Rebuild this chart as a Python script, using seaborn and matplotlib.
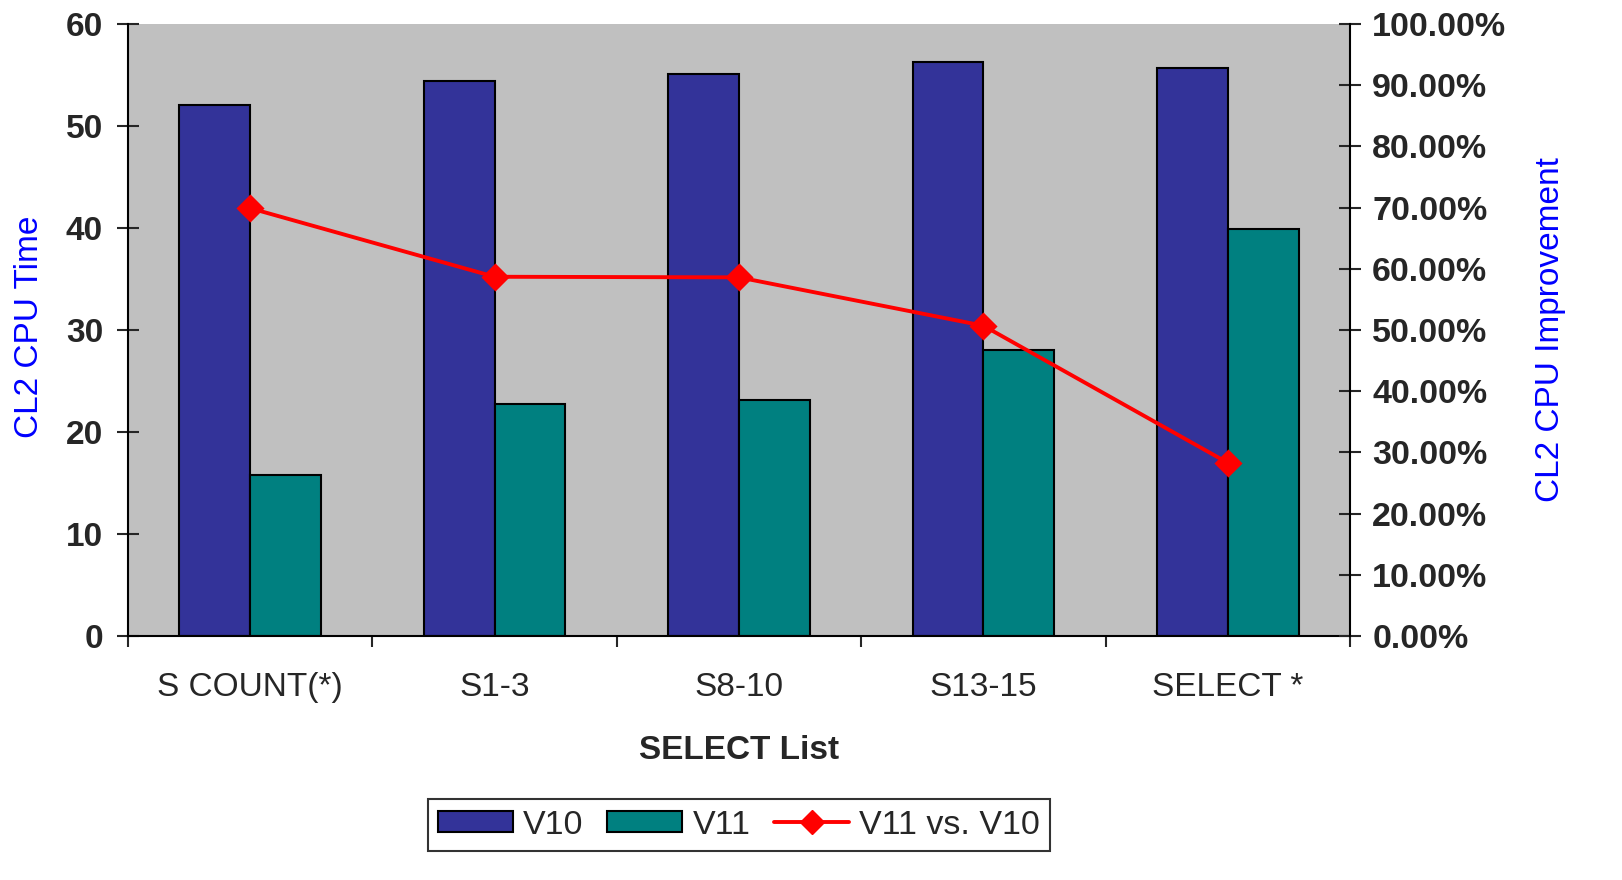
import numpy as np
import pandas as pd
import matplotlib.pyplot as plt
import seaborn as sns
from matplotlib.patches import Patch
from matplotlib.lines import Line2D
from matplotlib.ticker import PercentFormatter, FixedLocator

# data
categories = ['S COUNT(*)', 'S1-3', 'S8-10', 'S13-15', 'SELECT *']
v10_time = [52.1, 54.4, 55.1, 56.3, 55.7]
v11_time = [15.8, 22.7, 23.1, 28.0, 39.9]
improvement = [69.9, 58.7, 58.6, 50.7, 28.3]  # percent

sns.set_style('white')
plt.rcParams['font.family'] = ['Liberation Sans', 'DejaVu Sans']

c_v10 = '#333399'
c_v11 = '#008080'
c_line = '#FF0000'

df = pd.DataFrame({
    'category': categories * 2,
    'version': ['V10'] * len(categories) + ['V11'] * len(categories),
    'time': v10_time + v11_time,
})

fig = plt.figure(figsize=(16.22, 8.8), dpi=100)
ax = fig.add_axes([128 / 1622, 1 - 636 / 880, 1222 / 1622, 612 / 880])
ax.set_facecolor('#C0C0C0')

sns.barplot(data=df, x='category', y='time', hue='version',
            palette=[c_v10, c_v11], width=0.58, edgecolor='black',
            linewidth=1.5, saturation=1, ax=ax, legend=False)

ax.set_ylim(0, 60)
ax.set_yticks(range(0, 61, 10))
ax.set_xlim(-0.5, len(categories) - 0.5)

ax2 = ax.twinx()
sns.pointplot(x=categories, y=improvement, color=c_line, markers='D',
              markersize=12, linewidth=2.8, ax=ax2)
ax2.set_ylim(0, 100)
ax2.set_yticks(range(0, 101, 10))
ax2.yaxis.set_major_formatter(PercentFormatter(100, decimals=2))
ax.set_xlim(-0.5, len(categories) - 0.5)

# spines
for a in (ax, ax2):
    a.spines['top'].set_visible(False)
    for s in ('left', 'right', 'bottom'):
        a.spines[s].set_color('black')
        a.spines[s].set_linewidth(1.5)
ax.spines['right'].set_visible(False)
ax2.spines['left'].set_visible(False)
ax2.spines['bottom'].set_visible(False)

# ticks
ax.tick_params(axis='y', direction='inout', length=16, width=1.5,
               labelsize=24, pad=10, left=True)
for lbl in ax.get_yticklabels():
    lbl.set_fontweight('bold')
ax2.tick_params(axis='y', direction='inout', length=16, width=1.5,
                labelsize=24.5, pad=8, right=True)
for lbl in ax2.get_yticklabels():
    lbl.set_fontweight('bold')

ax.xaxis.set_minor_locator(FixedLocator(np.arange(-0.5, len(categories), 1.0)))
ax.tick_params(axis='x', which='major', length=0, labelsize=24, pad=26)
ax.tick_params(axis='x', which='minor', direction='out', length=8,
               width=1.5, bottom=True)

ax.set_xlabel('SELECT List', fontsize=24, fontweight='bold')
ax.xaxis.set_label_coords(0.5, -0.162)
ax.set_ylabel('CL2 CPU Time', fontsize=24, color='blue')
ax.yaxis.set_label_coords(-0.068, 0.505)
ax2.set_ylabel('CL2 CPU Improvement', fontsize=24, color='blue')
ax2.yaxis.set_label_coords(1.151, 0.5)

handles = [
    Patch(facecolor=c_v10, edgecolor='black', linewidth=1.5, label='V10'),
    Patch(facecolor=c_v11, edgecolor='black', linewidth=1.5, label='V11'),
    Line2D([], [], color=c_line, linewidth=2.8, marker='D', markersize=12,
           label='V11 vs. V10'),
]
leg = fig.legend(handles=handles, loc='center', ncol=3,
                 bbox_to_anchor=(739 / 1622, 1 - 825 / 880),
                 fontsize=24.5, frameon=True, fancybox=False,
                 edgecolor='black', handlelength=2.2, handleheight=0.6,
                 handletextpad=0.3, columnspacing=0.7, borderpad=0.3)
leg.get_frame().set_linewidth(1.5)

plt.savefig('out.png', dpi=100)
